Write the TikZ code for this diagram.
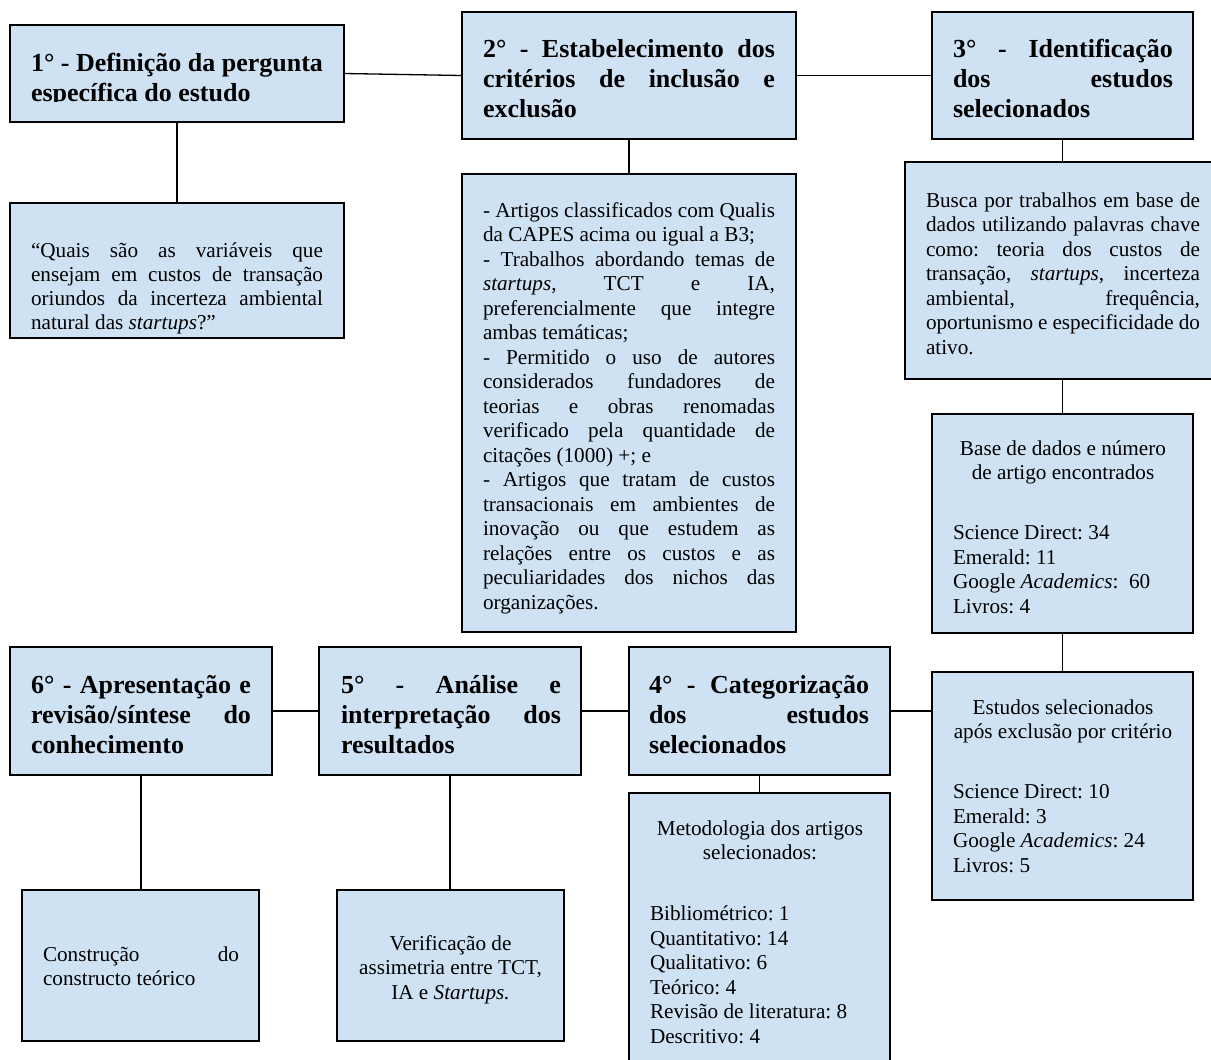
\documentclass[tikz,border=0pt]{standalone}
\usepackage{fontspec}
\setmainfont{Liberation Serif}
\frenchspacing
\definecolor{boxblue}{RGB}{207,226,243}
\newcommand\st{\rule{0pt}{1em}}
\newcommand\J[2]{\makebox[#1pt][s]{#2}}
\newcommand\C[2]{\makebox[#1pt][c]{#2}}
\newcommand\bx[5]{\node[box, minimum width={(#4-#2)*1pt}, minimum height={(#5-#3)*1pt}] (#1) at ({(#2+#4)/2},{(#3+#5)/2}) {};}
\tikzset{
  box/.style={draw=black, fill=boxblue, line width=1.3pt, inner sep=0pt, outer sep=0pt},
  hd/.style={anchor=north west, inner sep=0pt, outer sep=0pt, align=left, font=\fontsize{26}{30}\selectfont\bfseries\frenchspacing},
  bd/.style={anchor=north west, inner sep=0pt, outer sep=0pt, align=left, font=\fontsize{21.2}{24.5}\selectfont\frenchspacing},
  ln/.style={line width=1.3pt, draw=black}
}
\begin{document}
\begin{tikzpicture}[x=1pt, y=-1pt]
\useasboundingbox (0,0) rectangle (1211,1060);
% boxes
\bx{b1}{10}{25}{344}{122}
\bx{b1a}{10}{203}{344}{338}
\bx{b2}{462}{12}{796}{139}
\bx{b2a}{462}{174}{796}{632}
\bx{b3}{932}{12}{1193}{139}
\bx{b3a}{905}{162}{1230}{379}
\bx{b3b}{932}{414}{1193}{633}
\bx{b3c}{932}{672}{1193}{900}
\bx{b4}{629}{647}{890}{775}
\bx{b4a}{629}{793}{890}{1080}
\bx{b5}{319}{647}{581}{775}
\bx{b5a}{337}{890}{564}{1041}
\bx{b6}{10}{647}{272}{775}
\bx{b6a}{22}{890}{259}{1041}
% connectors
\draw[ln] (b1.east) -- (b2.west);
\draw[ln] (b2.east) -- (b3.west);
\draw[ln] (b1.south) -- (b1a.north);
\draw[ln] (b2.south) -- (b2a.north);
\draw[ln] (b3.south) -- (b3.south |- b3a.north);
\draw[ln] (b3b.north |- b3a.south) -- (b3b.north);
\draw[ln] (b3b.south) -- (b3c.north);
\draw[ln] (b4.east) -- (b4.east -| b3c.west);
\draw[ln] (b5.east) -- (b4.west);
\draw[ln] (b6.east) -- (b5.west);
\draw[ln] (b4.south) -- (b4.south |- b4a.north);
\draw[ln] (b5.south) -- (b5.south |- b5a.north);
\draw[ln] (b6.south) -- (b6.south |- b6a.north);
% headers
\begin{scope}
\clip (10,25) rectangle (344,101.5);
\node[hd] (t1) at (31,45.5) {\J{292}{\st 1° - Definição da pergunta}\\ específica do estudo};
\end{scope}
\node[hd] (t2) at (483,31.5) {\J{292}{\st 2° - Estabelecimento dos}\\ \J{292}{critérios de inclusão e}\\ exclusão};
\node[hd] (t3) at (953,31.5) {\J{220}{\st 3° - Identificação}\\ \J{220}{dos estudos}\\ selecionados};
\node[hd] (t4) at (649,667.5) {\J{220}{\st 4° - Categorização}\\ \J{220}{dos estudos}\\ selecionados};
\node[hd] (t5) at (341,667.5) {\J{220}{\st 5° - Análise e}\\ \J{220}{interpretação dos}\\ resultados};
\node[hd] (t6) at (31,667.5) {\J{220}{\st 6° - Apresentação e}\\ \J{220}{revisão/síntese do}\\ conhecimento};
% bodies
\node[bd] (t1a) at (31,235.8) {\J{292}{\st “Quais são as variáveis que}\\[-0.5pt] \J{292}{ensejam em custos de transação}\\[-0.5pt] \J{292}{oriundos da incerteza ambiental}\\[-0.5pt] natural das \textit{startups}?”};
\node[bd] (t2a) at (483,195.8) {\J{292}{\st - Artigos classificados com Qualis}\\
da CAPES acima ou igual a B3;\\
\J{292}{- Trabalhos abordando temas de}\\
\J{292}{\textit{startups}, TCT e IA,}\\
\J{292}{preferencialmente que integre}\\
ambas temáticas;\\
\J{292}{- Permitido o uso de autores}\\
\J{292}{considerados fundadores de}\\
\J{292}{teorias e obras renomadas}\\
\J{292}{verificado pela quantidade de}\\
citações (1000) +; e\\
\J{292}{- Artigos que tratam de custos}\\
\J{292}{transacionais em ambientes de}\\
\J{292}{inovação ou que estudem as}\\
\J{292}{relações entre os custos e as}\\
\J{292}{peculiaridades dos nichos das}\\
organizações.};
\node[bd] (t3a) at (926,185.8) {\J{274}{\st Busca por trabalhos em base de}\\
\J{274}{dados utilizando palavras chave}\\
\J{274}{como: teoria dos custos de}\\
\J{274}{transação, \textit{startups}, incerteza}\\
\J{274}{ambiental, frequência,}\\
\J{274}{oportunismo e especificidade do}\\
ativo.};
\node[bd] (t3b) at (953,433.8) {\C{220}{\st Base de dados e número}\\
\C{220}{de artigo encontrados}\\[35.5pt]
Science Direct: 34\\
Emerald: 11\\
Google \textit{Academics}:\ \ 60\\
Livros: 4};
\node[bd] (t3c) at (953,692.8) {\C{220}{\st Estudos selecionados}\\
\C{220}{após exclusão por critério}\\[35.5pt]
Science Direct: 10\\
Emerald: 3\\
Google \textit{Academics}: 24\\
Livros: 5};
\node[bd] (t4a) at (650,813.8) {\C{220}{\st Metodologia dos artigos}\\
\C{220}{selecionados:}\\[36.5pt]
Bibliométrico: 1\\
Quantitativo: 14\\
Qualitativo: 6\\
Teórico: 4\\
Revisão de literatura: 8\\
Descritivo: 4};
\node[bd, anchor=north, align=center] (t5a) at (450.5,928.8) {\st Verificação de\\ assimetria entre TCT,\\ IA e \textit{Startups.}};
\node[bd] (t6a) at (43,939.8) {\J{196}{\st Construção do}\\ constructo teórico};
\end{tikzpicture}
\end{document}
